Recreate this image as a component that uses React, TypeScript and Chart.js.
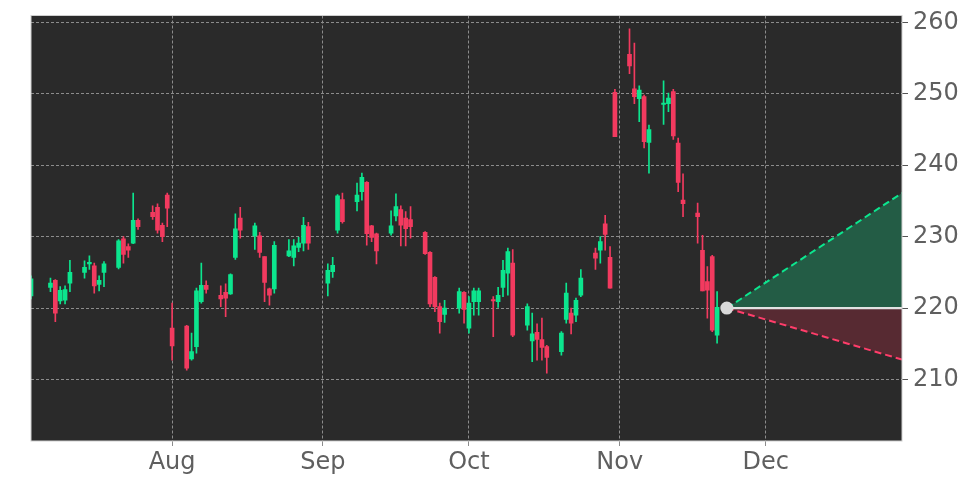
import { useEffect, useRef } from "react"
import { Chart, registerables, type ChartConfiguration, type Plugin } from "chart.js"

Chart.register(...registerables)

// trading days (2025), month-day
const dates = [
  "07-03", "07-07", "07-08", "07-09", "07-10", "07-11",
  "07-14", "07-15", "07-16", "07-17", "07-18",
  "07-21", "07-22", "07-23", "07-24", "07-25",
  "07-28", "07-29", "07-30", "07-31", "08-01",
  "08-04", "08-05", "08-06", "08-07", "08-08",
  "08-11", "08-12", "08-13", "08-14", "08-15",
  "08-18", "08-19", "08-20", "08-21", "08-22",
  "08-25", "08-26", "08-27", "08-28", "08-29",
  "09-02", "09-03", "09-04", "09-05",
  "09-08", "09-09", "09-10", "09-11", "09-12",
  "09-15", "09-16", "09-17", "09-18", "09-19",
  "09-22", "09-23", "09-24", "09-25", "09-26",
  "09-29", "09-30", "10-01", "10-02", "10-03",
  "10-06", "10-07", "10-08", "10-09", "10-10",
  "10-13", "10-14", "10-15", "10-16", "10-17",
  "10-20", "10-21", "10-22", "10-23", "10-24",
  "10-27", "10-28", "10-29", "10-30", "10-31",
  "11-03", "11-04", "11-05", "11-06", "11-07",
  "11-10", "11-11", "11-12", "11-13", "11-14",
  "11-17", "11-18", "11-19", "11-20", "11-21",
]

const opens = [
  221.7, 222.9, 223.9, 221.0, 221.1, 223.5,
  225.0, 226.2, 225.9, 223.3, 225.0,
  225.7, 229.7, 228.6, 229.1, 232.3,
  233.4, 234.1, 231.6, 235.8, 217.2,
  217.5, 212.9, 214.6, 220.9, 223.2,
  221.8, 222.2, 222.0, 227.1, 232.6,
  230.1, 230.1, 227.2, 222.7, 222.7,
  227.3, 227.1, 228.5, 229.1, 231.4,
  223.5, 225.1, 230.9, 235.2,
  234.9, 236.3, 237.6, 231.5, 230.4,
  230.5, 232.9, 233.8, 232.6, 232.4,
  230.6, 227.8, 224.3, 220.2, 219.1,
  220.0, 222.2, 217.2, 220.9, 220.9,
  221.2, 220.9, 222.9, 224.9, 226.3,
  217.6, 215.4, 216.6, 215.6, 214.6,
  213.9, 218.4, 219.3, 219.0, 221.8,
  227.7, 228.1, 231.8, 227.1, 250.2,
  255.5, 250.7, 249.3, 249.6, 243.2,
  248.5, 248.6, 250.3, 243.1, 235.1,
  233.3, 228.1, 223.7, 227.2, 216.2,
]

const highs = [
  224.5, 224.2, 224.0, 223.0, 223.1, 226.7,
  226.6, 227.3, 226.3, 224.5, 226.5,
  229.6, 230.0, 229.0, 236.1, 232.5,
  234.3, 234.6, 231.9, 236.1, 220.7,
  217.6, 216.5, 222.8, 226.3, 223.8,
  223.1, 223.4, 224.8, 233.2, 234.1,
  231.9, 230.6, 227.2, 222.8, 229.3,
  229.6, 229.6, 229.9, 232.7, 232.0,
  226.2, 227.1, 235.9, 236.1,
  237.5, 238.9, 237.7, 231.6, 230.5,
  233.6, 236.0, 234.3, 233.5, 234.2,
  230.7, 227.9, 224.4, 220.7, 221.1,
  222.8, 222.3, 221.6, 222.8, 222.8,
  221.6, 222.9, 226.7, 228.4, 228.2,
  220.6, 219.3, 217.8, 218.6, 214.8,
  216.7, 223.5, 220.0, 221.4, 225.4,
  228.4, 230.0, 233.0, 228.6, 250.6,
  259.1, 257.1, 251.1, 249.8, 245.6,
  251.8, 250.1, 250.6, 243.8, 238.8,
  234.7, 230.2, 225.8, 227.4, 222.3,
]

const lows = [
  221.3, 222.3, 218.1, 220.6, 220.6, 222.3,
  224.2, 225.4, 222.1, 222.4, 223.0,
  225.5, 226.3, 227.1, 229.0, 231.0,
  232.4, 230.5, 229.3, 231.4, 212.7,
  211.3, 212.7, 213.7, 220.7, 222.1,
  220.2, 218.8, 221.9, 226.8, 229.8,
  228.2, 227.1, 220.9, 220.4, 222.1,
  227.2, 225.9, 227.9, 228.0, 228.2,
  221.7, 224.3, 230.5, 231.9,
  233.6, 235.1, 228.8, 229.3, 226.2,
  230.2, 232.2, 228.7, 228.7, 229.8,
  227.5, 220.2, 219.5, 216.5, 218.0,
  219.3, 217.9, 216.5, 219.0, 219.0,
  216.0, 220.1, 221.6, 221.8, 216.0,
  216.9, 212.5, 212.7, 212.7, 210.9,
  213.4, 217.9, 216.4, 218.1, 221.6,
  225.4, 226.3, 228.1, 222.8, 244.0,
  252.8, 248.6, 246.1, 242.4, 238.9,
  245.7, 247.5, 243.6, 236.3, 232.8,
  229.1, 222.4, 218.6, 216.7, 215.1,
]

const closes = [
  224.1, 223.5, 219.3, 222.5, 222.6, 225.0,
  225.7, 226.4, 223.1, 223.9, 226.2,
  229.4, 227.5, 228.1, 232.3, 231.4,
  232.8, 230.9, 230.0, 234.0, 214.7,
  211.6, 213.9, 222.4, 223.2, 222.6,
  221.3, 221.4, 224.7, 231.1, 230.9,
  231.5, 227.8, 223.6, 221.8, 228.8,
  228.0, 228.7, 229.1, 231.6, 229.1,
  225.3, 226.0, 235.7, 232.1,
  235.8, 238.3, 230.4, 229.9, 228.0,
  231.5, 234.2, 231.6, 231.1, 231.4,
  227.6, 220.6, 220.2, 218.1, 220.0,
  222.3, 219.8, 220.7, 222.4, 222.4,
  221.0, 221.8, 225.3, 227.9, 216.2,
  220.2, 216.4, 215.6, 214.5, 213.1,
  216.5, 222.1, 217.9, 221.1, 224.2,
  227.0, 229.3, 230.3, 222.8, 244.0,
  253.9, 249.6, 250.5, 243.3, 245.0,
  248.7, 249.4, 244.1, 237.6, 234.6,
  232.8, 222.4, 222.5, 216.9, 220.1,
]

// projection cone from the last close
const projDates = ["11-23", "12-29"]
const projMid = [220.0, 220.0]
const projUpper = [220.0, 236.1]
const projLower = [220.0, 212.8]

const monthTicks = ["08-01", "09-01", "10-01", "11-01", "12-01"]
const monthLabels = ["Aug", "Sep", "Oct", "Nov", "Dec"]
const priceTicks = [210, 220, 230, 240, 250, 260]

const UP = "#0ce58e"
const DOWN = "#f23a5f"
const PLOT_BG = "#2a2a2a"
const TEXT = "#5f5f5f"
const GRID = "#8c8c8c"

const dayOf = (md: string) => {
  const [m, d] = md.split("-").map(Number)
  return Math.round((Date.UTC(2025, m - 1, d) - Date.UTC(2025, 6, 1)) / 86400000)
}

const plotFrame: Plugin = {
  id: "plotFrame",
  beforeDraw(chart) {
    const { ctx, chartArea: a } = chart
    ctx.save()
    ctx.fillStyle = PLOT_BG
    ctx.fillRect(a.left, a.top, a.width, a.height)
    ctx.restore()
  },
  afterDatasetsDraw(chart) {
    const { ctx, chartArea: a } = chart
    ctx.save()
    ctx.strokeStyle = "#cfcfcf"
    ctx.lineWidth = 1
    ctx.strokeRect(a.left, a.top, a.width, a.height)
    ctx.restore()
  },
}

export default function App() {
  const canvasRef = useRef<HTMLCanvasElement>(null)
  const chartRef = useRef<Chart | null>(null)

  useEffect(() => {
    document.body.style.margin = "0"
    if (!canvasRef.current) return
    if (chartRef.current) chartRef.current.destroy()

    const xs = dates.map(dayOf)
    const colors = opens.map((o, i) => (closes[i] >= o ? UP : DOWN))
    const wickData = xs.map((x, i) => ({ x, y: [lows[i], highs[i]] }))
    const bodyData = xs.map((x, i) => ({ x, y: [opens[i], closes[i]] }))
    const px = projDates.map(dayOf)
    const line = (vals: number[]) => px.map((x, i) => ({ x, y: vals[i] }))

    const font = { family: "'DejaVu Sans', sans-serif", size: 24 }

    const config: ChartConfiguration = {
      type: "bar",
      data: {
        datasets: [
          {
            type: "line",
            data: [{ x: px[0], y: projMid[0] }],
            pointRadius: 6.5,
            pointBackgroundColor: "#d9d9d9",
            pointBorderWidth: 0,
            showLine: false,
            order: 0,
          },
          {
            type: "line",
            data: line(projMid),
            borderColor: "#e2e2e2",
            borderWidth: 2.2,
            pointRadius: 0,
            order: 1,
          },
          {
            type: "line",
            data: line(projUpper),
            borderColor: UP,
            borderWidth: 2,
            borderDash: [7, 4],
            pointRadius: 0,
            fill: { target: 1 },
            backgroundColor: "#235c45",
            order: 2,
          },
          {
            type: "line",
            data: line(projLower),
            borderColor: "#ff3d6a",
            borderWidth: 2,
            borderDash: [7, 4],
            pointRadius: 0,
            fill: { target: 1 },
            backgroundColor: "#572a32",
            order: 2,
          },
          {
            type: "bar",
            data: bodyData as any,
            backgroundColor: colors,
            borderWidth: 0,
            barThickness: 4,
            grouped: false,
            order: 3,
          },
          {
            type: "bar",
            data: wickData as any,
            backgroundColor: colors,
            borderWidth: 0,
            barThickness: 1,
            grouped: false,
            order: 4,
          },
        ],
      },
      options: {
        animation: false,
        responsive: true,
        maintainAspectRatio: false,
        layout: { padding: { left: 31, top: 15.5, right: 0, bottom: 0 } },
        plugins: { legend: { display: false }, tooltip: { enabled: false } },
        scales: {
          x: {
            type: "linear",
            offset: false,
            min: dayOf("07-03"),
            max: dayOf("12-29"),
            afterBuildTicks: (scale) => {
              scale.ticks = monthTicks.map((m) => ({ value: dayOf(m) }))
            },
            afterFit: (scale) => {
              scale.height = 45
              scale.paddingLeft = 0
              scale.paddingRight = 0
            },
            ticks: {
              autoSkip: false,
              maxRotation: 0,
              padding: 2,
              color: TEXT,
              font,
              callback: (v) => monthLabels[monthTicks.map(dayOf).indexOf(Number(v))] ?? "",
            },
            grid: { offset: false, color: GRID, lineWidth: 1, tickLength: 5, tickColor: GRID },
            border: { display: false, dash: [3, 2] },
          },
          y: {
            position: "right",
            min: 201.4,
            max: 260.95,
            afterBuildTicks: (scale) => {
              scale.ticks = priceTicks.map((v) => ({ value: v }))
            },
            afterFit: (scale) => {
              scale.width = 70
              scale.paddingTop = 0
              scale.paddingBottom = 0
            },
            ticks: { padding: 5, color: TEXT, font },
            grid: { color: GRID, lineWidth: 1, tickLength: 6, tickColor: "#555555" },
            border: { display: false, dash: [3, 2] },
          },
        },
      },
      plugins: [plotFrame],
    }

    chartRef.current = new Chart(canvasRef.current, config)

    return () => {
      if (chartRef.current) {
        chartRef.current.destroy()
        chartRef.current = null
      }
    }
  }, [])

  return (
    <div style={{ width: "972px", height: "486px", position: "relative", background: "#ffffff" }}>
      <canvas ref={canvasRef} />
    </div>
  )
}
